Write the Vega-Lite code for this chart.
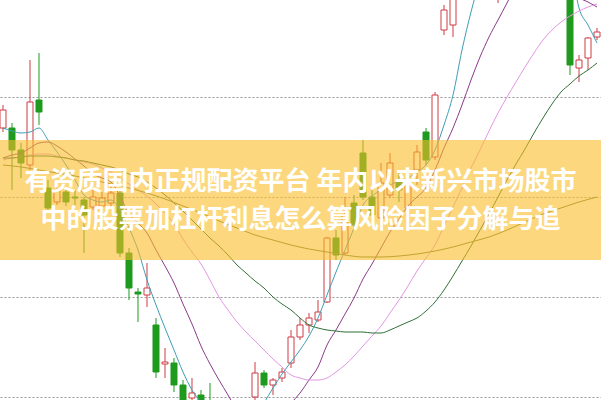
{
"$schema": "https://vega.github.io/schema/vega-lite/v6.json",
"width": 601, "height": 400,
"autosize": {"type": "fit", "contains": "padding"},
"padding": 0,
"background": "white",
"config": {"view": {"stroke": null}},
"datasets": {
"candles": [
{"i":0,"o":12.69,"c":12.87,"h":12.92,"l":12.65},
{"i":1,"o":12.69,"c":12.47,"h":12.74,"l":12.07},
{"i":2,"o":12.47,"c":12.34,"h":12.54,"l":12.19},
{"i":3,"o":12.32,"c":12.95,"h":13.37,"l":12.27},
{"i":4,"o":12.97,"c":12.85,"h":13.44,"l":12.72},
{"i":5,"o":12.09,"c":11.89,"h":12.17,"l":11.85},
{"i":6,"o":11.95,"c":12.07,"h":12.12,"l":11.92},
{"i":7,"o":12.05,"c":11.95,"h":12.09,"l":11.91},
{"i":8,"o":12.00,"c":11.99,"h":12.07,"l":11.92},
{"i":9,"o":11.97,"c":11.82,"h":12.00,"l":11.44},
{"i":10,"o":11.90,"c":12.00,"h":12.07,"l":11.87},
{"i":11,"o":11.91,"c":11.99,"h":12.05,"l":11.87},
{"i":12,"o":11.94,"c":12.04,"h":12.12,"l":11.90},
{"i":13,"o":12.04,"c":11.44,"h":12.09,"l":11.40},
{"i":14,"o":11.44,"c":11.09,"h":11.49,"l":10.97},
{"i":15,"o":11.05,"c":11.03,"h":11.09,"l":10.75},
{"i":16,"o":11.02,"c":11.09,"h":11.34,"l":10.90},
{"i":17,"o":10.72,"c":10.25,"h":10.79,"l":10.19},
{"i":18,"o":10.33,"c":10.35,"h":10.49,"l":10.19},
{"i":19,"o":10.34,"c":10.12,"h":10.39,"l":10.05},
{"i":20,"o":10.12,"c":9.87,"h":10.17,"l":9.82},
{"i":21,"o":9.99,"c":10.04,"h":10.19,"l":9.92},
{"i":22,"o":10.02,"c":9.77,"h":10.07,"l":9.72},
{"i":23,"o":9.92,"c":9.67,"h":10.14,"l":9.62},
{"i":24,"o":9.70,"c":9.50,"h":9.80,"l":9.45},
{"i":25,"o":9.48,"c":9.58,"h":9.65,"l":9.42},
{"i":26,"o":9.60,"c":9.40,"h":9.66,"l":9.35},
{"i":27,"o":9.42,"c":9.85,"h":9.90,"l":9.38},
{"i":28,"o":10.00,"c":10.24,"h":10.35,"l":9.97},
{"i":29,"o":10.24,"c":10.12,"h":10.27,"l":10.09},
{"i":30,"o":10.12,"c":10.17,"h":10.19,"l":10.02},
{"i":31,"o":10.19,"c":10.25,"h":10.29,"l":10.15},
{"i":32,"o":10.34,"c":10.60,"h":10.67,"l":10.29},
{"i":33,"o":10.60,"c":10.72,"h":10.79,"l":10.57},
{"i":34,"o":10.72,"c":10.79,"h":10.84,"l":10.64},
{"i":35,"o":10.77,"c":10.85,"h":10.97,"l":10.75},
{"i":36,"o":10.95,"c":11.59,"h":11.60,"l":10.94},
{"i":37,"o":11.59,"c":11.42,"h":11.67,"l":11.37},
{"i":38,"o":11.44,"c":11.82,"h":12.00,"l":11.42},
{"i":39,"o":11.94,"c":11.72,"h":12.02,"l":11.69},
{"i":40,"o":12.44,"c":12.00,"h":12.57,"l":11.97},
{"i":41,"o":12.00,"c":11.82,"h":12.07,"l":11.77},
{"i":42,"o":11.79,"c":12.14,"h":12.34,"l":11.75},
{"i":43,"o":12.02,"c":12.34,"h":12.44,"l":11.99},
{"i":44,"o":12.15,"c":12.07,"h":12.24,"l":11.95},
{"i":45,"o":11.89,"c":12.17,"h":12.27,"l":11.85},
{"i":46,"o":12.27,"c":12.45,"h":12.52,"l":12.12},
{"i":47,"o":12.65,"c":12.37,"h":12.69,"l":12.32},
{"i":48,"o":12.40,"c":13.02,"h":13.05,"l":12.37},
{"i":49,"o":13.67,"c":13.87,"h":13.92,"l":13.62},
{"i":50,"o":13.72,"c":14.07,"h":14.17,"l":13.60},
{"i":51,"o":14.05,"c":14.40,"h":14.50,"l":14.00},
{"i":52,"o":14.40,"c":14.20,"h":14.60,"l":14.10},
{"i":53,"o":14.20,"c":14.60,"h":14.70,"l":14.15},
{"i":54,"o":14.60,"c":14.30,"h":14.75,"l":14.25},
{"i":55,"o":14.05,"c":14.35,"h":14.45,"l":13.94},
{"i":56,"o":14.35,"c":14.80,"h":14.90,"l":14.30},
{"i":57,"o":14.80,"c":14.50,"h":14.95,"l":14.45},
{"i":58,"o":14.50,"c":14.90,"h":15.00,"l":14.45},
{"i":59,"o":14.90,"c":14.60,"h":15.00,"l":14.50},
{"i":60,"o":14.60,"c":14.85,"h":14.95,"l":14.55},
{"i":61,"o":14.85,"c":14.55,"h":14.90,"l":14.50},
{"i":62,"o":14.55,"c":14.80,"h":14.90,"l":14.50},
{"i":63,"o":14.30,"c":13.32,"h":14.40,"l":13.22},
{"i":64,"o":13.29,"c":13.37,"h":13.42,"l":13.15},
{"i":65,"o":13.39,"c":13.59,"h":13.60,"l":13.27},
{"i":66,"o":13.60,"c":13.65,"h":13.69,"l":13.57}
],
"ma": [
{"s":"MA5","i":0,"v":12.69},{"s":"MA5","i":1,"v":12.66},{"s":"MA5","i":2,"v":12.64},{"s":"MA5","i":3,"v":12.65},{"s":"MA5","i":4,"v":12.69},{"s":"MA5","i":5,"v":12.57},{"s":"MA5","i":6,"v":12.45},{"s":"MA5","i":7,"v":12.32},{"s":"MA5","i":8,"v":12.17},{"s":"MA5","i":9,"v":12.02},{"s":"MA5","i":10,"v":11.97},{"s":"MA5","i":11,"v":11.95},{"s":"MA5","i":12,"v":11.97},{"s":"MA5","i":13,"v":11.87},{"s":"MA5","i":14,"v":11.69},{"s":"MA5","i":15,"v":11.47},{"s":"MA5","i":16,"v":11.17},{"s":"MA5","i":17,"v":10.92},{"s":"MA5","i":18,"v":10.69},{"s":"MA5","i":19,"v":10.47},{"s":"MA5","i":20,"v":10.25},{"s":"MA5","i":21,"v":10.07},{"s":"MA5","i":22,"v":9.95},{"s":"MA5","i":23,"v":9.85},{"s":"MA5","i":24,"v":9.75},{"s":"MA5","i":25,"v":9.67},{"s":"MA5","i":26,"v":9.62},{"s":"MA5","i":27,"v":9.67},{"s":"MA5","i":28,"v":9.79},{"s":"MA5","i":29,"v":9.94},{"s":"MA5","i":30,"v":10.09},{"s":"MA5","i":31,"v":10.23},{"s":"MA5","i":32,"v":10.35},{"s":"MA5","i":33,"v":10.47},{"s":"MA5","i":34,"v":10.61},{"s":"MA5","i":35,"v":10.79},{"s":"MA5","i":36,"v":11.02},{"s":"MA5","i":37,"v":11.25},{"s":"MA5","i":38,"v":11.47},{"s":"MA5","i":39,"v":11.69},{"s":"MA5","i":40,"v":11.92},{"s":"MA5","i":41,"v":12.01},{"s":"MA5","i":42,"v":12.07},{"s":"MA5","i":43,"v":12.12},{"s":"MA5","i":44,"v":12.16},{"s":"MA5","i":45,"v":12.19},{"s":"MA5","i":46,"v":12.25},{"s":"MA5","i":47,"v":12.32},{"s":"MA5","i":48,"v":12.47},{"s":"MA5","i":49,"v":12.72},{"s":"MA5","i":50,"v":13.02},{"s":"MA5","i":51,"v":13.47},{"s":"MA5","i":52,"v":13.85},{"s":"MA5","i":53,"v":14.17},{"s":"MA5","i":54,"v":14.42},{"s":"MA5","i":55,"v":14.57},{"s":"MA5","i":56,"v":14.67},{"s":"MA5","i":57,"v":14.67},{"s":"MA5","i":58,"v":14.69},{"s":"MA5","i":59,"v":14.67},{"s":"MA5","i":60,"v":14.69},{"s":"MA5","i":61,"v":14.62},{"s":"MA5","i":62,"v":14.72},{"s":"MA5","i":63,"v":14.37},{"s":"MA5","i":64,"v":13.89},{"s":"MA5","i":65,"v":13.72},{"s":"MA5","i":66,"v":13.54},
{"s":"MA10","i":0,"v":12.39},{"s":"MA10","i":1,"v":12.42},{"s":"MA10","i":2,"v":12.44},{"s":"MA10","i":3,"v":12.49},{"s":"MA10","i":4,"v":12.54},{"s":"MA10","i":5,"v":12.55},{"s":"MA10","i":6,"v":12.51},{"s":"MA10","i":7,"v":12.45},{"s":"MA10","i":8,"v":12.38},{"s":"MA10","i":9,"v":12.31},{"s":"MA10","i":10,"v":12.23},{"s":"MA10","i":11,"v":12.19},{"s":"MA10","i":12,"v":12.15},{"s":"MA10","i":13,"v":12.01},{"s":"MA10","i":14,"v":11.83},{"s":"MA10","i":15,"v":11.74},{"s":"MA10","i":16,"v":11.64},{"s":"MA10","i":17,"v":11.47},{"s":"MA10","i":18,"v":11.31},{"s":"MA10","i":19,"v":11.14},{"s":"MA10","i":20,"v":10.93},{"s":"MA10","i":21,"v":10.73},{"s":"MA10","i":22,"v":10.51},{"s":"MA10","i":23,"v":10.33},{"s":"MA10","i":24,"v":10.17},{"s":"MA10","i":25,"v":10.02},{"s":"MA10","i":26,"v":9.87},{"s":"MA10","i":27,"v":9.82},{"s":"MA10","i":28,"v":9.80},{"s":"MA10","i":29,"v":9.80},{"s":"MA10","i":30,"v":9.83},{"s":"MA10","i":31,"v":9.86},{"s":"MA10","i":32,"v":9.94},{"s":"MA10","i":33,"v":10.04},{"s":"MA10","i":34,"v":10.17},{"s":"MA10","i":35,"v":10.30},{"s":"MA10","i":36,"v":10.52},{"s":"MA10","i":37,"v":10.67},{"s":"MA10","i":38,"v":10.83},{"s":"MA10","i":39,"v":10.99},{"s":"MA10","i":40,"v":11.18},{"s":"MA10","i":41,"v":11.33},{"s":"MA10","i":42,"v":11.49},{"s":"MA10","i":43,"v":11.65},{"s":"MA10","i":44,"v":11.78},{"s":"MA10","i":45,"v":11.91},{"s":"MA10","i":46,"v":12.00},{"s":"MA10","i":47,"v":12.09},{"s":"MA10","i":48,"v":12.27},{"s":"MA10","i":49,"v":12.49},{"s":"MA10","i":50,"v":12.69},{"s":"MA10","i":51,"v":12.92},{"s":"MA10","i":52,"v":13.17},{"s":"MA10","i":53,"v":13.40},{"s":"MA10","i":54,"v":13.60},{"s":"MA10","i":55,"v":13.77},{"s":"MA10","i":56,"v":13.94},{"s":"MA10","i":57,"v":14.12},{"s":"MA10","i":58,"v":14.32},{"s":"MA10","i":59,"v":14.45},{"s":"MA10","i":60,"v":14.52},{"s":"MA10","i":61,"v":14.47},{"s":"MA10","i":62,"v":14.37},{"s":"MA10","i":63,"v":14.17},{"s":"MA10","i":64,"v":14.00},{"s":"MA10","i":65,"v":13.95},{"s":"MA10","i":66,"v":13.90},
{"s":"MA20","i":0,"v":12.37},{"s":"MA20","i":1,"v":12.39},{"s":"MA20","i":2,"v":12.40},{"s":"MA20","i":3,"v":12.42},{"s":"MA20","i":4,"v":12.43},{"s":"MA20","i":5,"v":12.43},{"s":"MA20","i":6,"v":12.41},{"s":"MA20","i":7,"v":12.39},{"s":"MA20","i":8,"v":12.37},{"s":"MA20","i":9,"v":12.35},{"s":"MA20","i":10,"v":12.33},{"s":"MA20","i":11,"v":12.29},{"s":"MA20","i":12,"v":12.25},{"s":"MA20","i":13,"v":12.19},{"s":"MA20","i":14,"v":12.13},{"s":"MA20","i":15,"v":12.07},{"s":"MA20","i":16,"v":12.01},{"s":"MA20","i":17,"v":11.93},{"s":"MA20","i":18,"v":11.84},{"s":"MA20","i":19,"v":11.73},{"s":"MA20","i":20,"v":11.58},{"s":"MA20","i":21,"v":11.45},{"s":"MA20","i":22,"v":11.33},{"s":"MA20","i":23,"v":11.17},{"s":"MA20","i":24,"v":11.00},{"s":"MA20","i":25,"v":10.87},{"s":"MA20","i":26,"v":10.75},{"s":"MA20","i":27,"v":10.65},{"s":"MA20","i":28,"v":10.56},{"s":"MA20","i":29,"v":10.47},{"s":"MA20","i":30,"v":10.38},{"s":"MA20","i":31,"v":10.30},{"s":"MA20","i":32,"v":10.22},{"s":"MA20","i":33,"v":10.19},{"s":"MA20","i":34,"v":10.17},{"s":"MA20","i":35,"v":10.17},{"s":"MA20","i":36,"v":10.19},{"s":"MA20","i":37,"v":10.25},{"s":"MA20","i":38,"v":10.32},{"s":"MA20","i":39,"v":10.41},{"s":"MA20","i":40,"v":10.51},{"s":"MA20","i":41,"v":10.61},{"s":"MA20","i":42,"v":10.71},{"s":"MA20","i":43,"v":10.84},{"s":"MA20","i":44,"v":10.97},{"s":"MA20","i":45,"v":11.11},{"s":"MA20","i":46,"v":11.26},{"s":"MA20","i":47,"v":11.39},{"s":"MA20","i":48,"v":11.52},{"s":"MA20","i":49,"v":11.71},{"s":"MA20","i":50,"v":11.90},{"s":"MA20","i":51,"v":12.09},{"s":"MA20","i":52,"v":12.29},{"s":"MA20","i":53,"v":12.47},{"s":"MA20","i":54,"v":12.66},{"s":"MA20","i":55,"v":12.84},{"s":"MA20","i":56,"v":13.00},{"s":"MA20","i":57,"v":13.15},{"s":"MA20","i":58,"v":13.30},{"s":"MA20","i":59,"v":13.44},{"s":"MA20","i":60,"v":13.57},{"s":"MA20","i":61,"v":13.67},{"s":"MA20","i":62,"v":13.75},{"s":"MA20","i":63,"v":13.81},{"s":"MA20","i":64,"v":13.86},{"s":"MA20","i":65,"v":13.90},{"s":"MA20","i":66,"v":13.93},
{"s":"MA30","i":0,"v":12.39},{"s":"MA30","i":1,"v":12.39},{"s":"MA30","i":2,"v":12.40},{"s":"MA30","i":3,"v":12.41},{"s":"MA30","i":4,"v":12.41},{"s":"MA30","i":5,"v":12.41},{"s":"MA30","i":6,"v":12.40},{"s":"MA30","i":7,"v":12.39},{"s":"MA30","i":8,"v":12.37},{"s":"MA30","i":9,"v":12.36},{"s":"MA30","i":10,"v":12.34},{"s":"MA30","i":11,"v":12.32},{"s":"MA30","i":12,"v":12.30},{"s":"MA30","i":13,"v":12.27},{"s":"MA30","i":14,"v":12.23},{"s":"MA30","i":15,"v":12.20},{"s":"MA30","i":16,"v":12.15},{"s":"MA30","i":17,"v":12.09},{"s":"MA30","i":18,"v":12.02},{"s":"MA30","i":19,"v":11.94},{"s":"MA30","i":20,"v":11.86},{"s":"MA30","i":21,"v":11.77},{"s":"MA30","i":22,"v":11.68},{"s":"MA30","i":23,"v":11.59},{"s":"MA30","i":24,"v":11.51},{"s":"MA30","i":25,"v":11.42},{"s":"MA30","i":26,"v":11.32},{"s":"MA30","i":27,"v":11.24},{"s":"MA30","i":28,"v":11.16},{"s":"MA30","i":29,"v":11.09},{"s":"MA30","i":30,"v":11.00},{"s":"MA30","i":31,"v":10.93},{"s":"MA30","i":32,"v":10.87},{"s":"MA30","i":33,"v":10.79},{"s":"MA30","i":34,"v":10.72},{"s":"MA30","i":35,"v":10.69},{"s":"MA30","i":36,"v":10.67},{"s":"MA30","i":37,"v":10.66},{"s":"MA30","i":38,"v":10.65},{"s":"MA30","i":39,"v":10.65},{"s":"MA30","i":40,"v":10.65},{"s":"MA30","i":41,"v":10.64},{"s":"MA30","i":42,"v":10.64},{"s":"MA30","i":43,"v":10.67},{"s":"MA30","i":44,"v":10.71},{"s":"MA30","i":45,"v":10.75},{"s":"MA30","i":46,"v":10.79},{"s":"MA30","i":47,"v":10.86},{"s":"MA30","i":48,"v":10.95},{"s":"MA30","i":49,"v":11.07},{"s":"MA30","i":50,"v":11.21},{"s":"MA30","i":51,"v":11.36},{"s":"MA30","i":52,"v":11.51},{"s":"MA30","i":53,"v":11.67},{"s":"MA30","i":54,"v":11.83},{"s":"MA30","i":55,"v":12.00},{"s":"MA30","i":56,"v":12.17},{"s":"MA30","i":57,"v":12.33},{"s":"MA30","i":58,"v":12.48},{"s":"MA30","i":59,"v":12.64},{"s":"MA30","i":60,"v":12.79},{"s":"MA30","i":61,"v":12.93},{"s":"MA30","i":62,"v":13.05},{"s":"MA30","i":63,"v":13.13},{"s":"MA30","i":64,"v":13.21},{"s":"MA30","i":65,"v":13.27},{"s":"MA30","i":66,"v":13.34},
{"s":"MA60","i":0,"v":12.32},{"s":"MA60","i":2,"v":12.30},{"s":"MA60","i":4,"v":12.27},{"s":"MA60","i":6,"v":12.24},{"s":"MA60","i":8,"v":12.21},{"s":"MA60","i":10,"v":12.17},{"s":"MA60","i":12,"v":12.13},{"s":"MA60","i":14,"v":12.09},{"s":"MA60","i":16,"v":12.04},{"s":"MA60","i":18,"v":11.98},{"s":"MA60","i":20,"v":11.91},{"s":"MA60","i":22,"v":11.84},{"s":"MA60","i":24,"v":11.76},{"s":"MA60","i":26,"v":11.69},{"s":"MA60","i":28,"v":11.62},{"s":"MA60","i":30,"v":11.57},{"s":"MA60","i":32,"v":11.52},{"s":"MA60","i":34,"v":11.48},{"s":"MA60","i":36,"v":11.45},{"s":"MA60","i":38,"v":11.42},{"s":"MA60","i":40,"v":11.40},{"s":"MA60","i":42,"v":11.40},{"s":"MA60","i":44,"v":11.41},{"s":"MA60","i":46,"v":11.43},{"s":"MA60","i":48,"v":11.46},{"s":"MA60","i":50,"v":11.50},{"s":"MA60","i":52,"v":11.55},{"s":"MA60","i":54,"v":11.60},{"s":"MA60","i":56,"v":11.67},{"s":"MA60","i":58,"v":11.75},{"s":"MA60","i":60,"v":11.83},{"s":"MA60","i":62,"v":11.89},{"s":"MA60","i":64,"v":11.95},{"s":"MA60","i":66,"v":12.00}
]
},
"layer": [
{"data": {"name": "candles"},
 "mark": {"type": "rule", "clip": true, "strokeWidth": 1},
 "encoding": {
  "x": {"field": "i", "type": "quantitative", "scale": {"domain": [-0.3333, 66.4444], "nice": false, "zero": false, "padding": 0}, "axis": null},
  "y": {"field": "l", "type": "quantitative", "scale": {"domain": [9.97, 13.97], "nice": false, "zero": false, "padding": 0},
        "axis": {"grid": true, "values": [10, 11, 12, 13], "labels": false, "ticks": false, "domain": false, "title": null, "gridDash": [2, 2], "gridColor": "#999999", "gridWidth": 1}},
  "y2": {"field": "h"},
  "color": {"condition": {"test": "datum.c >= datum.o", "value": "#cc3d45"}, "value": "#1e9a1e"}
 }},
{"data": {"name": "candles"},
 "mark": {"type": "bar", "clip": true, "size": 6, "strokeWidth": 1},
 "encoding": {
  "x": {"field": "i", "type": "quantitative"},
  "y": {"field": "o", "type": "quantitative"},
  "y2": {"field": "c"},
  "fill": {"condition": {"test": "datum.c >= datum.o", "value": "#ffffff"}, "value": "#1e9a1e"},
  "stroke": {"condition": {"test": "datum.c >= datum.o", "value": "#cc3d45"}, "value": "#1e9a1e"}
 }},
{"data": {"name": "ma"},
 "mark": {"type": "line", "clip": true, "strokeWidth": 1, "interpolate": "monotone"},
 "encoding": {
  "x": {"field": "i", "type": "quantitative"},
  "y": {"field": "v", "type": "quantitative"},
  "color": {"field": "s", "type": "nominal", "legend": null,
            "scale": {"domain": ["MA5", "MA10", "MA20", "MA30", "MA60"], "range": ["#3f9db5", "#8a3a8a", "#e396e3", "#2f6f35", "#6f7f3f"]}}
 }},
{"data": {"values": [{}]},
 "mark": {"type": "rect", "fill": "#fabc26", "opacity": 0.6},
 "encoding": {"x": {"datum": -0.3333}, "x2": {"datum": 66.4444}, "y": {"datum": 12.57}, "y2": {"datum": 11.37}}},
{"data": {"values": [{}]},
 "mark": {"type": "text", "font": "Noto Sans CJK SC", "fontWeight": "bold", "fontSize": 26, "fill": "#ffffff", "align": "center", "baseline": "middle"},
 "encoding": {"x": {"datum": 33.0556}, "y": {"datum": 12.15}, "text": {"value": "有资质国内正规配资平台 年内以来新兴市场股市"}}},
{"data": {"values": [{}]},
 "mark": {"type": "text", "font": "Noto Sans CJK SC", "fontWeight": "bold", "fontSize": 26, "fill": "#ffffff", "align": "center", "baseline": "middle"},
 "encoding": {"x": {"datum": 33.0556}, "y": {"datum": 11.77}, "text": {"value": "中的股票加杠杆利息怎么算风险因子分解与追"}}}
]
}
